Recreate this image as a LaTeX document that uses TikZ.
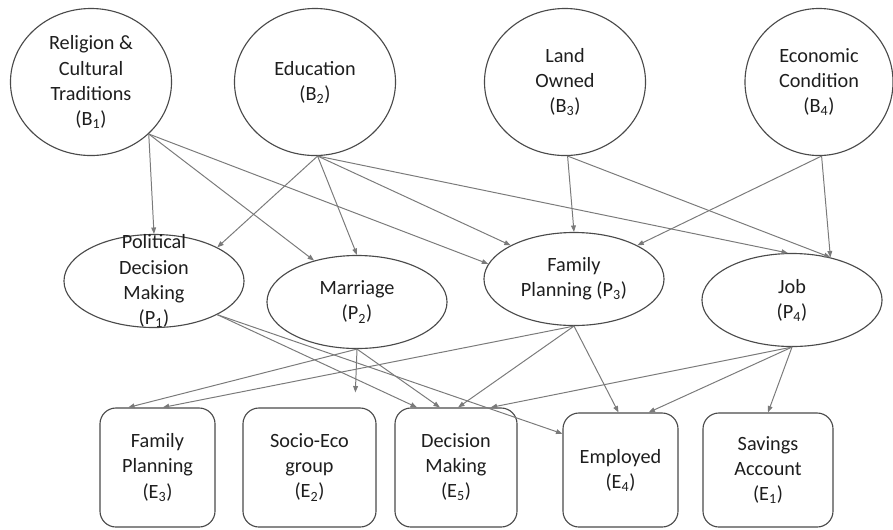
\documentclass[tikz,border=0pt]{standalone}
\usepackage{fontspec}
\setmainfont{Carlito}
\usetikzlibrary{arrows.meta,shapes.geometric}
\definecolor{Ink}{HTML}{4A4A4A}
\definecolor{Wire}{HTML}{7A7A7A}
\definecolor{Type}{HTML}{1E1E1E}
\tikzset{
  belief/.style={
    ellipse, draw=Ink, line width=0.8pt, inner sep=0pt, text=Type,
    minimum width=4.025cm, minimum height=3.675cm, align=center
  },
  practice/.style={
    ellipse, draw=Ink, line width=0.8pt, inner sep=0pt, text=Type,
    minimum width=4.5cm, minimum height=2.325cm, align=center
  },
  outcome/.style={
    rounded corners=0.4cm, draw=Ink, line width=0.8pt, text=Type,
    minimum height=2.975cm, align=center
  },
  link/.style={-{Triangle[length=1.6mm,width=1.2mm]}, line width=0.7pt, draw=Wire}
}

\begin{document}
\begin{tikzpicture}[x=0.025cm,y=-0.025cm,font=\fontsize{14.4pt}{17.8pt}\selectfont]
        \useasboundingbox (0,0) rectangle (893,529);
        \node[belief] (b1) at (91,82) {Religion \&\\Cultural\\Traditions\\(B\textsubscript{1})};
        \node[belief] (b2) at (315,82) {Education\\(B\textsubscript{2})};
        \node[belief] (b3) at (565,82) {Land\\Owned\\(B\textsubscript{3})};
        \node[belief,minimum width=3.7cm] (b4) at (819,82) {Economic\\Condition\\(B\textsubscript{4})};
        \node[practice,label={[align=center,text=Type]center:{Political\\Decision\\Making\\(P\textsubscript{1})}}] (p1) at (154,281) {};
        \node[practice] (p2) at (357,302) {Marriage\\(P\textsubscript{2})};
        \node[practice] (p3) at (574,279) {Family\\Planning (P\textsubscript{3})};
        \node[practice] (p4) at (792,300) {Job\\(P\textsubscript{4})};
        \node[outcome,minimum width=2.875cm] (e3) at (157.5,467.5) {Family\\Planning\\(E\textsubscript{3})};
        \node[outcome,minimum width=3.325cm] (e2) at (309.5,467.5) {Socio-Eco\\group\\(E\textsubscript{2})};
        \node[outcome,minimum width=3.05cm] (e5) at (456,467.5) {Decision\\Making\\(E\textsubscript{5})};
        \node[outcome,minimum width=2.875cm,minimum height=2.85cm] (e4) at (620.5,470) {Employed\\(E\textsubscript{4})};
        \node[outcome,minimum width=3.25cm,minimum height=2.85cm] (e1) at (768,470) {Savings\\Account\\(E\textsubscript{1})};
        \draw[link] (b1.-42) -- (p1.north);
        \draw[link] (b1.-42) -- (p2.136);
        \draw[link] (b1.-42) -- (p3.170);
        \draw[link] (b2.-88) -- (p1.28);
        \draw[link] (b2.-88) -- (p2.north);
        \draw[link] (b2.-88) -- (p3.152);
        \draw[link] (b2.-88) -- (p4.95);
        \draw[link] (b3.-88) -- (p3.north);
        \draw[link] (b3.-88) -- (p4.48);
        \draw[link] (b4.-88) -- (p3.28);
        \draw[link] (b4.-88) -- (p4.48);
        \draw[link] (p1.-28) -- (e5.123);
        \draw[link] (p1.-28) -- (e4.148);
        \draw[link] (p2.south) -- (e3.116);
        \draw[link,shorten >=0.375cm] (p2.south) -- (e2.53);
        \draw[link] (p2.south) -- (e5.105);
        \draw[link] (p3.south) -- (e3.85);
        \draw[link] (p3.south) -- (e5.88);
        \draw[link] (p3.south) -- (e4.92);
        \draw[link] (p4.south) -- (e5.60);
        \draw[link] (p4.south) -- (e4.64);
        \draw[link] (p4.south) -- (e1.north);
      \end{tikzpicture}
\end{document}
